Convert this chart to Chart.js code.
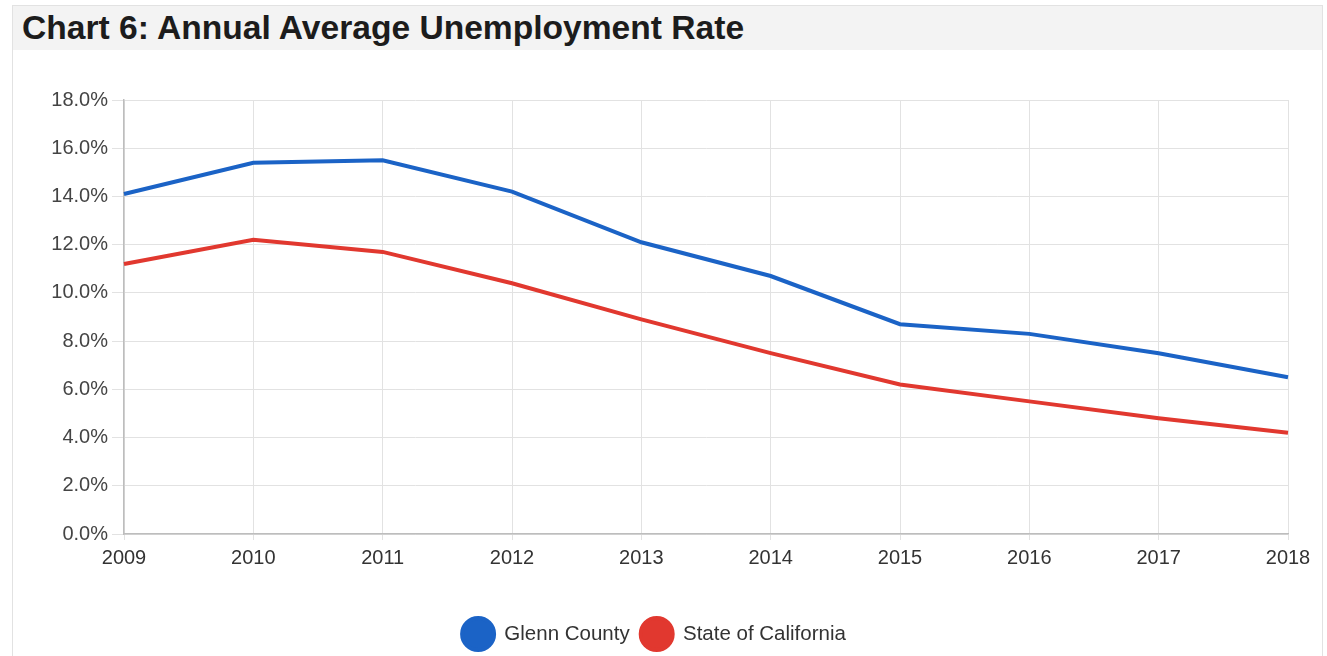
<!DOCTYPE html>
<html>
<head>
<meta charset="utf-8">
<script src="https://cdn.jsdelivr.net/npm/chart.js@4/dist/chart.umd.min.js"></script>
<style>
  html, body { margin: 0; padding: 0; width: 1327px; height: 656px; overflow: hidden; background: #fff; }
  #panel { position: absolute; left: 12px; top: 5px; width: 1311px; height: 700px;
           border: 1px solid #e2e2e2; box-sizing: border-box; }
  #title { position: absolute; left: 13px; top: 6px; width: 1309px; height: 44px; background: #f3f3f3;
           font: bold 33.6px "Liberation Sans", Arial, sans-serif; color: #1c1c1c;
           line-height: 44px; padding-left: 9px; box-sizing: border-box; white-space: nowrap; }
  #wrap { position: absolute; left: 0; top: 50px; width: 1327px; height: 610px; }
</style>
</head>
<body>
<div id="panel"></div>
<div id="title">Chart 6: Annual Average Unemployment Rate</div>
<div id="wrap"><canvas id="c"></canvas></div>
<script>
// Annual average unemployment rate, percent
const years = ['2009', '2010', '2011', '2012', '2013', '2014', '2015', '2016', '2017', '2018'];
const glennCounty = [14.1, 15.4, 15.5, 14.2, 12.1, 10.7, 8.7, 8.3, 7.5, 6.5];
const stateOfCalifornia = [11.2, 12.2, 11.7, 10.4, 8.9, 7.5, 6.2, 5.5, 4.8, 4.2];
const seriesNames = ['Glenn County', 'State of California'];

const FONT = '"Liberation Sans", Arial, sans-serif';

new Chart(document.getElementById('c'), {
  type: 'line',
  data: {
    labels: years,
    datasets: [
      { label: seriesNames[0], data: glennCounty, borderColor: '#1b63c6', backgroundColor: '#1b63c6',
        borderWidth: 4, pointRadius: 0, tension: 0, fill: false },
      { label: seriesNames[1], data: stateOfCalifornia, borderColor: '#e1382f', backgroundColor: '#e1382f',
        borderWidth: 4, pointRadius: 0, tension: 0, fill: false }
    ]
  },
  options: {
    responsive: true,
    maintainAspectRatio: false,
    animation: false,
    layout: { padding: { top: 50, right: 39, left: 20, bottom: 0 } },
    plugins: {
      tooltip: { enabled: false },
      legend: {
        position: 'bottom',
        labels: {
          boxWidth: 32, boxHeight: 32, useBorderRadius: true, borderRadius: 16,
          padding: 11, color: '#333', font: { family: FONT, size: 20.5 }
        }
      }
    },
    scales: {
      x: {
        offset: false,
        grid: { color: '#e2e2e2', lineWidth: 1, tickLength: 6, drawTicks: true },
        border: { color: '#bdbdbd', width: 1.5 },
        ticks: { color: '#333', padding: 6, maxRotation: 0, font: { family: FONT, size: 20 } },
        afterFit: s => { s.height = 73; }
      },
      y: {
        min: 0, max: 18,
        grid: { color: '#e2e2e2', lineWidth: 1, tickLength: 12 },
        border: { color: '#bdbdbd', width: 1.5 },
        ticks: { stepSize: 2, color: '#444', padding: 4, font: { family: FONT, size: 20 },
                 callback: v => v.toFixed(1) + '%' },
        afterFit: s => { s.width = 104; }
      }
    }
  }
});
</script>
</body>
</html>
